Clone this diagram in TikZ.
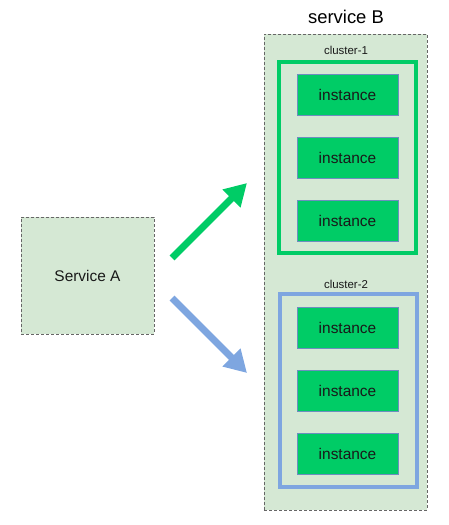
\documentclass[tikz,border=0pt]{standalone}
\usepackage{fontspec}
\setmainfont{Liberation Sans}
\usetikzlibrary{arrows.meta}
\definecolor{paleleaf}{RGB}{213,232,212}
\definecolor{leaf}{RGB}{0,204,102}
\definecolor{skyline}{RGB}{126,166,224}
\definecolor{slate}{RGB}{108,142,191}
\definecolor{ink}{RGB}{25,25,25}

\begin{document}
\begin{tikzpicture}[x=1bp, y=-1bp,
  svc/.style={draw=black!60, fill=paleleaf, dash pattern=on 3bp off 2bp,
    line width=0.8bp, inner sep=0pt},
  frame/.style={line width=3.5bp, inner sep=0pt, minimum width=137bp},
  inst/.style={draw=slate, fill=leaf, line width=0.8bp,
    minimum width=101bp, minimum height=41bp, inner sep=0pt,
    font=\fontsize{15.5}{18}\selectfont, text=ink},
  lbl/.style={font=\fontsize{11.5}{14}\selectfont, text=ink},
  flow/.style={-{Triangle[length=22bp, width=24bp]}, line width=7bp},
]
  \useasboundingbox (0,0) rectangle (449,525);
  % service B with its two clusters
  \node[svc, minimum width=163bp, minimum height=476bp] (svcB) at (345.5,272) {};
  \node[font=\fontsize{18.5}{22}\selectfont, text=black] (titleB) at (346,17) {service B};
  \node[lbl] (c1lbl) at (346,50) {cluster-1};
  \node[frame, draw=leaf, minimum height=191bp] (c1) at (347.5,157.5) {};
  \node[lbl] (c2lbl) at (346,284) {cluster-2};
  \node[frame, draw=skyline, minimum height=193bp] (c2) at (348.5,390.5) {};
  \node[inst] (i11) at (347.5,94.5) {instance};
  \node[inst] (i12) at (347.5,157.5) {instance};
  \node[inst] (i13) at (347.5,221) {instance};
  \node[inst] (i21) at (347.5,327.5) {instance};
  \node[inst] (i22) at (347.5,390.5) {instance};
  \node[inst] (i23) at (347.5,454) {instance};
  % service A
  \node[svc, minimum width=133bp, minimum height=117bp,
    font=\fontsize{15.5}{18}\selectfont, text=ink] (svcA) at (87.5,275.5) {Service A};
  % routing arrows
  \coordinate (upT) at (172,258);
  \coordinate (upH) at (247,183);
  \coordinate (dnT) at (172,298);
  \coordinate (dnH) at (247,373);
  \draw[flow, leaf] (upT) -- (upH);
  \draw[flow, skyline] (dnT) -- (dnH);
\end{tikzpicture}
\end{document}
